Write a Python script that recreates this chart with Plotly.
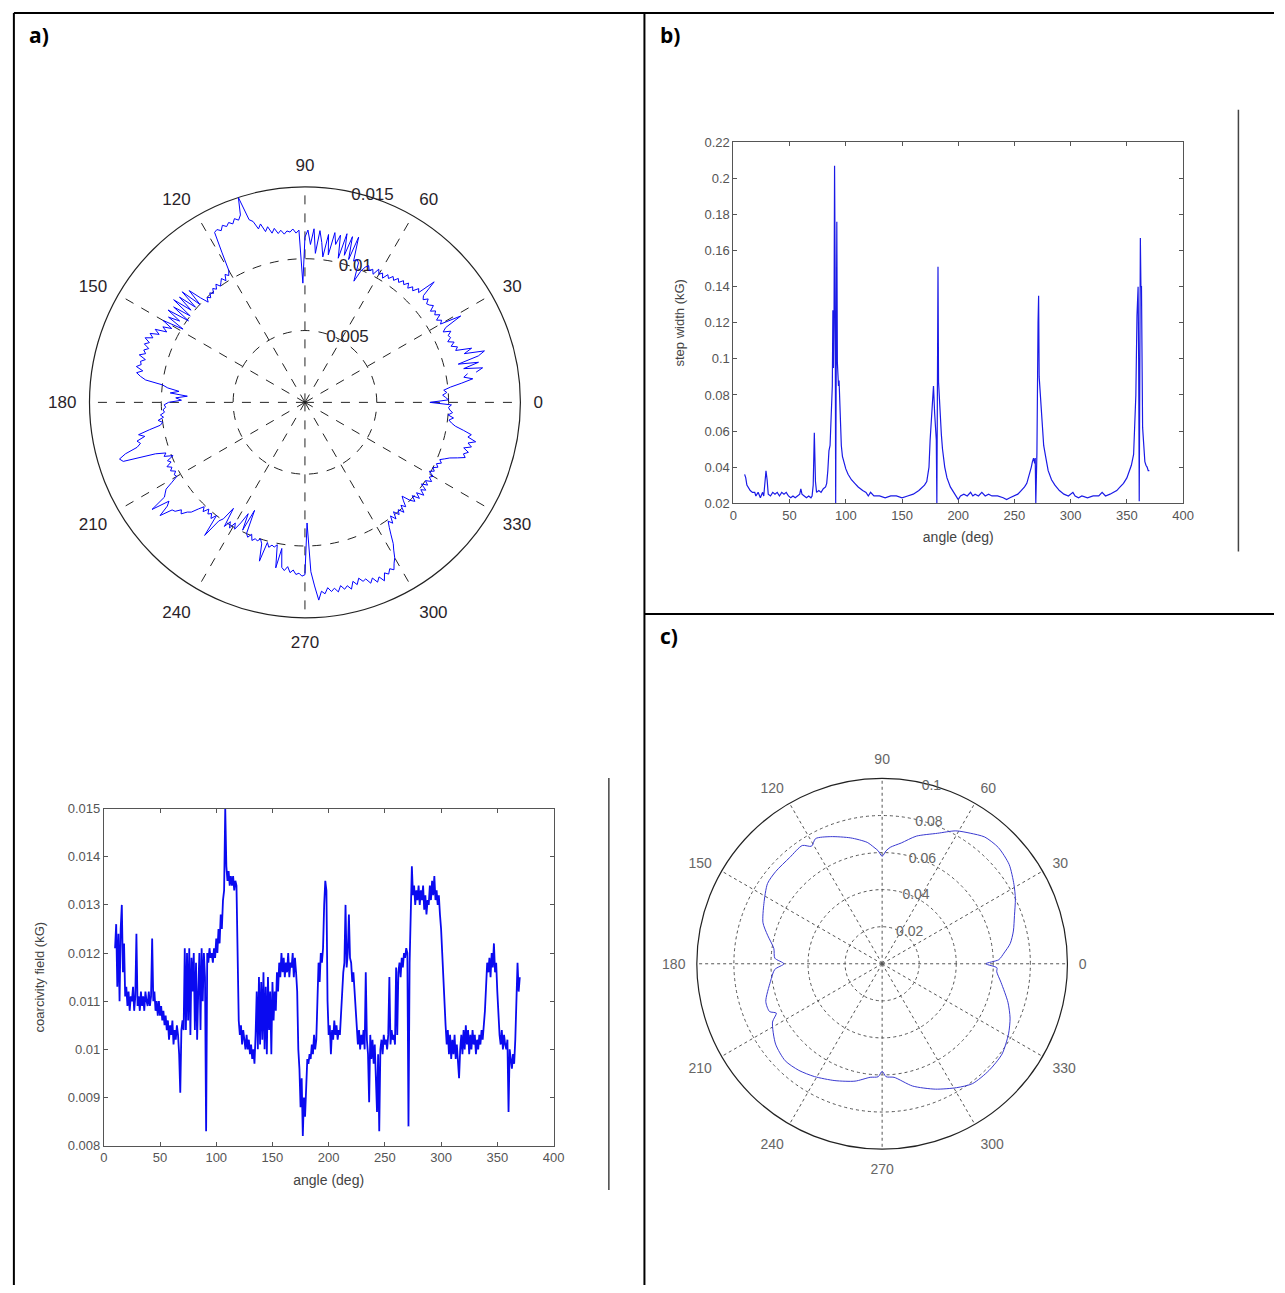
import plotly.graph_objects as go

# ---------------- data ----------------
# coercivity field (kG) sampled every degree from 10 to 370 deg
coerc_angle = list(range(10, 371))
coerc_field = [
    0.0121, 0.0126, 0.0113, 0.0124, 0.0110, 0.0125, 0.0130, 0.0116, 0.0122, 0.0111,  # 10
    0.0113, 0.0109, 0.0112, 0.0108, 0.0111, 0.0110, 0.0113, 0.0108, 0.0111, 0.0124,  # 20
    0.0109, 0.0111, 0.0108, 0.0112, 0.0109, 0.0111, 0.0108, 0.0112, 0.0110, 0.0109,  # 30
    0.0112, 0.0109, 0.0111, 0.0123, 0.0110, 0.0112, 0.0108, 0.0110, 0.0107, 0.0110,  # 40
    0.0107, 0.0109, 0.0106, 0.0108, 0.0105, 0.0107, 0.0104, 0.0106, 0.0102, 0.0105,  # 50
    0.0103, 0.0106, 0.0101, 0.0104, 0.0102, 0.0105, 0.0103, 0.0099, 0.0091, 0.0104,  # 60
    0.0106, 0.0104, 0.0121, 0.0104, 0.0120, 0.0106, 0.0121, 0.0103, 0.0119, 0.0112,  # 70
    0.0120, 0.0104, 0.0118, 0.0102, 0.0112, 0.0120, 0.0104, 0.0121, 0.0110, 0.0120,  # 80
    0.0115, 0.0083, 0.0120, 0.0118, 0.0121, 0.0119, 0.0120, 0.0118, 0.0121, 0.0119,  # 90
    0.0123, 0.0120, 0.0125, 0.0122, 0.0128, 0.0125, 0.0131, 0.0133, 0.0150, 0.0138,  # 100
    0.0135, 0.0137, 0.0134, 0.0136, 0.0134, 0.0136, 0.0133, 0.0135, 0.0134, 0.0119,  # 110
    0.0106, 0.0103, 0.0105, 0.0101, 0.0104, 0.0102, 0.0100, 0.0103, 0.0100, 0.0102,  # 120
    0.0099, 0.0101, 0.0098, 0.0100, 0.0097, 0.0103, 0.0112, 0.0100, 0.0115, 0.0101,  # 130
    0.0114, 0.0102, 0.0116, 0.0100, 0.0113, 0.0099, 0.0115, 0.0104, 0.0112, 0.0099,  # 140
    0.0114, 0.0106, 0.0112, 0.0108, 0.0116, 0.0112, 0.0118, 0.0115, 0.0120, 0.0116,  # 150
    0.0119, 0.0115, 0.0118, 0.0116, 0.0120, 0.0115, 0.0118, 0.0117, 0.0120, 0.0115,  # 160
    0.0119, 0.0116, 0.0112, 0.0100, 0.0096, 0.0088, 0.0094, 0.0082, 0.0090, 0.0086,  # 170
    0.0095, 0.0098, 0.0097, 0.0099, 0.0098, 0.0101, 0.0099, 0.0103, 0.0100, 0.0102,  # 180
    0.0110, 0.0118, 0.0114, 0.0120, 0.0118, 0.0121, 0.0130, 0.0135, 0.0133, 0.0110,  # 190
    0.0103, 0.0105, 0.0099, 0.0104, 0.0102, 0.0106, 0.0103, 0.0105, 0.0102, 0.0104,  # 200
    0.0103, 0.0108, 0.0114, 0.0116, 0.0118, 0.0130, 0.0117, 0.0120, 0.0128, 0.0119,  # 210
    0.0118, 0.0114, 0.0116, 0.0112, 0.0110, 0.0105, 0.0101, 0.0104, 0.0100, 0.0103,  # 220
    0.0101, 0.0104, 0.0100, 0.0116, 0.0102, 0.0099, 0.0089, 0.0103, 0.0098, 0.0102,  # 230
    0.0097, 0.0101, 0.0095, 0.0087, 0.0099, 0.0083, 0.0100, 0.0102, 0.0099, 0.0103,  # 240
    0.0101, 0.0102, 0.0100, 0.0103, 0.0115, 0.0101, 0.0104, 0.0102, 0.0103, 0.0101,  # 250
    0.0117, 0.0103, 0.0116, 0.0118, 0.0115, 0.0119, 0.0117, 0.0120, 0.0119, 0.0121,  # 260
    0.0120, 0.0084, 0.0118, 0.0128, 0.0138, 0.0132, 0.0134, 0.0130, 0.0133, 0.0131,  # 270
    0.0134, 0.0130, 0.0133, 0.0131, 0.0134, 0.0129, 0.0132, 0.0128, 0.0131, 0.0130,  # 280
    0.0134, 0.0131, 0.0135, 0.0132, 0.0136, 0.0131, 0.0133, 0.0130, 0.0132, 0.0128,  # 290
    0.0125, 0.0120, 0.0116, 0.0110, 0.0105, 0.0101, 0.0104, 0.0099, 0.0103, 0.0098,  # 300
    0.0102, 0.0099, 0.0103, 0.0098, 0.0101, 0.0097, 0.0094, 0.0100, 0.0103, 0.0099,  # 310
    0.0104, 0.0100, 0.0105, 0.0101, 0.0104, 0.0099, 0.0103, 0.0100, 0.0104, 0.0101,  # 320
    0.0103, 0.0099, 0.0102, 0.0100, 0.0103, 0.0101, 0.0104, 0.0102, 0.0105, 0.0108,  # 330
    0.0113, 0.0118, 0.0116, 0.0119, 0.0115, 0.0120, 0.0117, 0.0122, 0.0116, 0.0118,  # 340
    0.0112, 0.0106, 0.0103, 0.0101, 0.0104, 0.0100, 0.0103, 0.0101, 0.0100, 0.0102,  # 350
    0.0087, 0.0100, 0.0098, 0.0096, 0.0099, 0.0097, 0.0102, 0.0110, 0.0118, 0.0112,  # 360
    0.0115,                                                                          # 370
]

# step width (kG) versus angle
step_angle = [
    10, 11, 12, 13, 14, 15, 17, 19, 20, 22, 24, 26, 27, 28, 29, 30, 31, 33, 35, 37,
    39, 41, 43, 45, 47, 49, 51, 53, 55, 57, 59, 60, 61, 63, 65, 67, 69, 70, 71, 72,
    73, 74, 76, 78, 80, 82, 83, 84, 85, 86, 87, 88, 88.5, 89, 89.5, 90, 90.5, 91, 91.5, 92,
    92.5, 93, 93.5, 94, 95, 96, 97, 98, 100, 102, 105, 108, 111, 115, 118, 120, 122, 125, 130, 135,
    140, 145, 150, 155, 160, 165, 168, 170, 172, 174, 175, 176, 177, 178, 179, 180, 180.5, 181, 181.5, 182,
    182.5, 183, 184, 185, 186, 187, 188, 190, 193, 196, 198, 200, 202, 205, 208, 211, 213, 215, 218, 221,
    224, 227, 230, 235, 240, 243, 246, 250, 253, 256, 259, 261, 263, 265, 266, 267, 268, 268.5, 269, 270,
    271, 271.5, 272, 273, 274, 275, 276, 278, 280, 283, 286, 290, 294, 298, 300, 302, 304, 307, 310, 315,
    320, 325, 328, 331, 335, 338, 341, 344, 347, 350, 352, 354, 356, 357, 358, 359, 360, 360.5, 361, 361.5,
    362, 362.5, 363, 364, 365, 366, 367, 368, 369, 370,
]
step_width = [
    0.036, 0.034, 0.030, 0.029, 0.028, 0.027, 0.026, 0.026, 0.024, 0.026, 0.023, 0.026, 0.024, 0.030, 0.038, 0.033, 0.025, 0.024, 0.026, 0.025,
    0.026, 0.024, 0.026, 0.025, 0.026, 0.024, 0.023, 0.024, 0.023, 0.024, 0.025, 0.028, 0.025, 0.024, 0.023, 0.024, 0.023, 0.024, 0.030, 0.059,
    0.032, 0.026, 0.027, 0.026, 0.028, 0.029, 0.031, 0.038, 0.049, 0.052, 0.070, 0.085, 0.127, 0.095, 0.120, 0.207, 0.150, 0.020, 0.100, 0.176,
    0.098, 0.092, 0.085, 0.088, 0.062, 0.052, 0.046, 0.043, 0.039, 0.036, 0.033, 0.031, 0.029, 0.027, 0.026, 0.024, 0.026, 0.024, 0.024, 0.023,
    0.024, 0.024, 0.023, 0.024, 0.025, 0.027, 0.029, 0.030, 0.032, 0.040, 0.055, 0.065, 0.072, 0.085, 0.070, 0.060, 0.055, 0.020, 0.100, 0.151,
    0.087, 0.080, 0.065, 0.058, 0.050, 0.044, 0.040, 0.034, 0.029, 0.026, 0.024, 0.022, 0.024, 0.025, 0.024, 0.026, 0.024, 0.025, 0.024, 0.026,
    0.024, 0.025, 0.024, 0.024, 0.023, 0.022, 0.023, 0.024, 0.025, 0.027, 0.029, 0.031, 0.035, 0.040, 0.043, 0.045, 0.042, 0.045, 0.020, 0.048,
    0.120, 0.135, 0.090, 0.080, 0.072, 0.060, 0.052, 0.045, 0.038, 0.033, 0.030, 0.027, 0.025, 0.024, 0.025, 0.026, 0.024, 0.023, 0.024, 0.023,
    0.024, 0.024, 0.026, 0.024, 0.025, 0.026, 0.027, 0.029, 0.031, 0.034, 0.037, 0.041, 0.047, 0.060, 0.080, 0.124, 0.140, 0.100, 0.021, 0.090,
    0.167, 0.140, 0.140, 0.062, 0.048, 0.043, 0.041, 0.040, 0.038, 0.038,
]

# angular dependence shown in panel c
lobe_angle = [
    0, 2, 5, 9, 14, 20, 26, 31, 38, 45, 51, 56, 61, 67, 75, 81, 86, 88, 90, 92,
    94, 97, 104, 112, 118, 121, 124, 131, 139, 145, 153, 161, 166, 172, 177, 180, 183, 189, 198, 203,
    205, 208, 217, 225, 232, 239, 248, 257, 264, 268, 270, 272, 276, 284, 293, 301, 307, 315, 323, 331,
    337, 343, 351, 356, 358, 360,
]
lobe_r = [
    0.056, 0.063, 0.066, 0.070, 0.073, 0.076, 0.080, 0.083, 0.087, 0.0887, 0.088, 0.085, 0.082, 0.0765, 0.0713, 0.066, 0.063, 0.061, 0.058, 0.061,
    0.063, 0.066, 0.070, 0.074, 0.0765, 0.074, 0.077, 0.076, 0.076, 0.0755, 0.0716, 0.068, 0.0637, 0.059, 0.058, 0.053, 0.058, 0.061, 0.066, 0.066,
    0.063, 0.067, 0.072, 0.074, 0.073, 0.071, 0.068, 0.065, 0.0616, 0.061, 0.058, 0.061, 0.0616, 0.068, 0.0735, 0.078, 0.081, 0.0815, 0.081, 0.078,
    0.075, 0.071, 0.065, 0.062, 0.062, 0.056,
]

polar_ticks = list(range(0, 360, 30))
polar_ticktext = [str(t) for t in polar_ticks]

W, H = 1285, 1293


def px(x):
    return x / W


def py(y):
    return 1 - y / H


fig = go.Figure()

# panel a, polar view
fig.add_trace(go.Scatterpolar(
    r=coerc_field, theta=coerc_angle, mode="lines",
    line=dict(color="#0000ff", width=1), subplot="polar", showlegend=False,
))
# panel a, cartesian view
fig.add_trace(go.Scatter(
    x=coerc_angle, y=coerc_field, mode="lines",
    line=dict(color="#0a0af0", width=1.8), xaxis="x", yaxis="y", showlegend=False,
))
# panel b
fig.add_trace(go.Scatter(
    x=step_angle, y=step_width, mode="lines",
    line=dict(color="#1a1ae6", width=1.2), xaxis="x2", yaxis="y2", showlegend=False,
))
# panel c
fig.add_trace(go.Scatterpolar(
    r=lobe_r, theta=lobe_angle, mode="lines", line_shape="spline",
    line=dict(color="#3a3ad0", width=1, smoothing=0.7), subplot="polar2", showlegend=False,
))

FONT = "Liberation Sans, Arial, sans-serif"
R_ANGLE = 80


def polar_layout(cx, cy, rad, rmax, rvals, rtext, fsize, fcolor, dash, gcolor, lab_pad):
    return dict(
        domain=dict(x=[px(cx - rad), px(cx + rad)], y=[py(cy + rad), py(cy - rad)]),
        bgcolor="white",
        angularaxis=dict(
            rotation=0, direction="counterclockwise", layer="below traces",
            tickmode="array", tickvals=polar_ticks, ticktext=polar_ticktext,
            ticks="outside", ticklen=lab_pad, tickcolor="rgba(0,0,0,0)",
            tickfont=dict(family=FONT, size=fsize, color=fcolor),
            showline=True, linecolor="#222", linewidth=1.2,
            showgrid=True, gridcolor=gcolor, griddash=dash, gridwidth=1,
        ),
        radialaxis=dict(
            range=[0, rmax], angle=R_ANGLE, side="clockwise", tickangle=R_ANGLE,
            layer="below traces",
            tickmode="array", tickvals=rvals, ticktext=rtext,
            tickfont=dict(family=FONT, size=fsize, color=fcolor),
            showline=False, ticks="",
            showgrid=True, gridcolor=gcolor, griddash=dash, gridwidth=1,
        ),
    )


layout = dict(
    width=W, height=H, margin=dict(l=0, r=0, t=0, b=0),
    paper_bgcolor="white", plot_bgcolor="white",
    font=dict(family=FONT, color="#333"),
    polar=polar_layout(304.5, 400, 218, 0.015, [0.005, 0.01, 0.015],
                       ["0.005", "0.01", "0.015"], 17, "#2a1f2a", "dash", "#222", 9),
    polar2=polar_layout(888.5, 968, 187.5, 0.1, [0.02, 0.04, 0.06, 0.08, 0.1],
                        ["0.02", "0.04", "0.06", "0.08", "0.1"], 14, "#666", "dot", "#555", 8),
)


def cart_axes(x0, x1, y0, y1, yr, dy, ytitle, ystand):
    common = dict(
        showline=True, linecolor="#555", linewidth=1, mirror="ticks",
        ticks="inside", ticklen=4, tickcolor="#555", showgrid=False, zeroline=False,
        tickfont=dict(family=FONT, size=13, color="#555"),
    )
    xa = dict(common, domain=[px(x0), px(x1)], range=[0, 400], dtick=50, tick0=0,
              title=dict(text="angle (deg)", font=dict(family=FONT, size=14, color="#444"), standoff=10))
    ya = dict(common, domain=[py(y1), py(y0)], range=yr, dtick=dy, tick0=yr[0],
              title=dict(text=ytitle, font=dict(family=FONT, size=13, color="#444"), standoff=ystand))
    return xa, ya


xa1, ya1 = cart_axes(101, 556, 811, 1152, [0.008, 0.015], 0.001, "coarcivity field (kG)", 20)
xa2, ya2 = cart_axes(738, 1193, 137, 502, [0.02, 0.22], 0.02, "step width (kG)", 16)
xa1["anchor"] = "y"
ya1["anchor"] = "x"
xa2["anchor"] = "y2"
ya2["anchor"] = "x2"
layout.update(xaxis=xa1, yaxis=ya1, xaxis2=xa2, yaxis2=ya2)

# table frame around the panels
frame = [
    (10, 6, W, 6),
    (10, 6, 10, H),
    (648, 6, 648, H),
    (648, 614, W, 614),
]
shapes = [
    dict(type="line", xref="paper", yref="paper",
         x0=px(a), y0=py(b), x1=px(c), y1=py(d), line=dict(color="black", width=2))
    for a, b, c, d in frame
]
# right edges of the embedded plot images
for a, b, c, d in [(612, 780, 612, 1197), (1249, 104, 1249, 551)]:
    shapes.append(dict(type="line", xref="paper", yref="paper",
                       x0=px(a), y0=py(b), x1=px(c), y1=py(d), line=dict(color="#444", width=1.5)))
layout["shapes"] = shapes

layout["annotations"] = [
    dict(text="<b>%s</b>" % t, x=px(x), y=py(y), xref="paper", yref="paper",
         xanchor="left", yanchor="middle", showarrow=False,
         font=dict(family="Open Sans, Liberation Sans, sans-serif", size=21, color="black"))
    for t, x, y in [("a)", 23, 28), ("b)", 662, 28), ("c)", 662, 636)]
]

fig.update_layout(**layout)
fig.write_html(
    "out.html",
    post_script="document.body.style.margin='0';document.body.style.overflow='hidden';",
)
